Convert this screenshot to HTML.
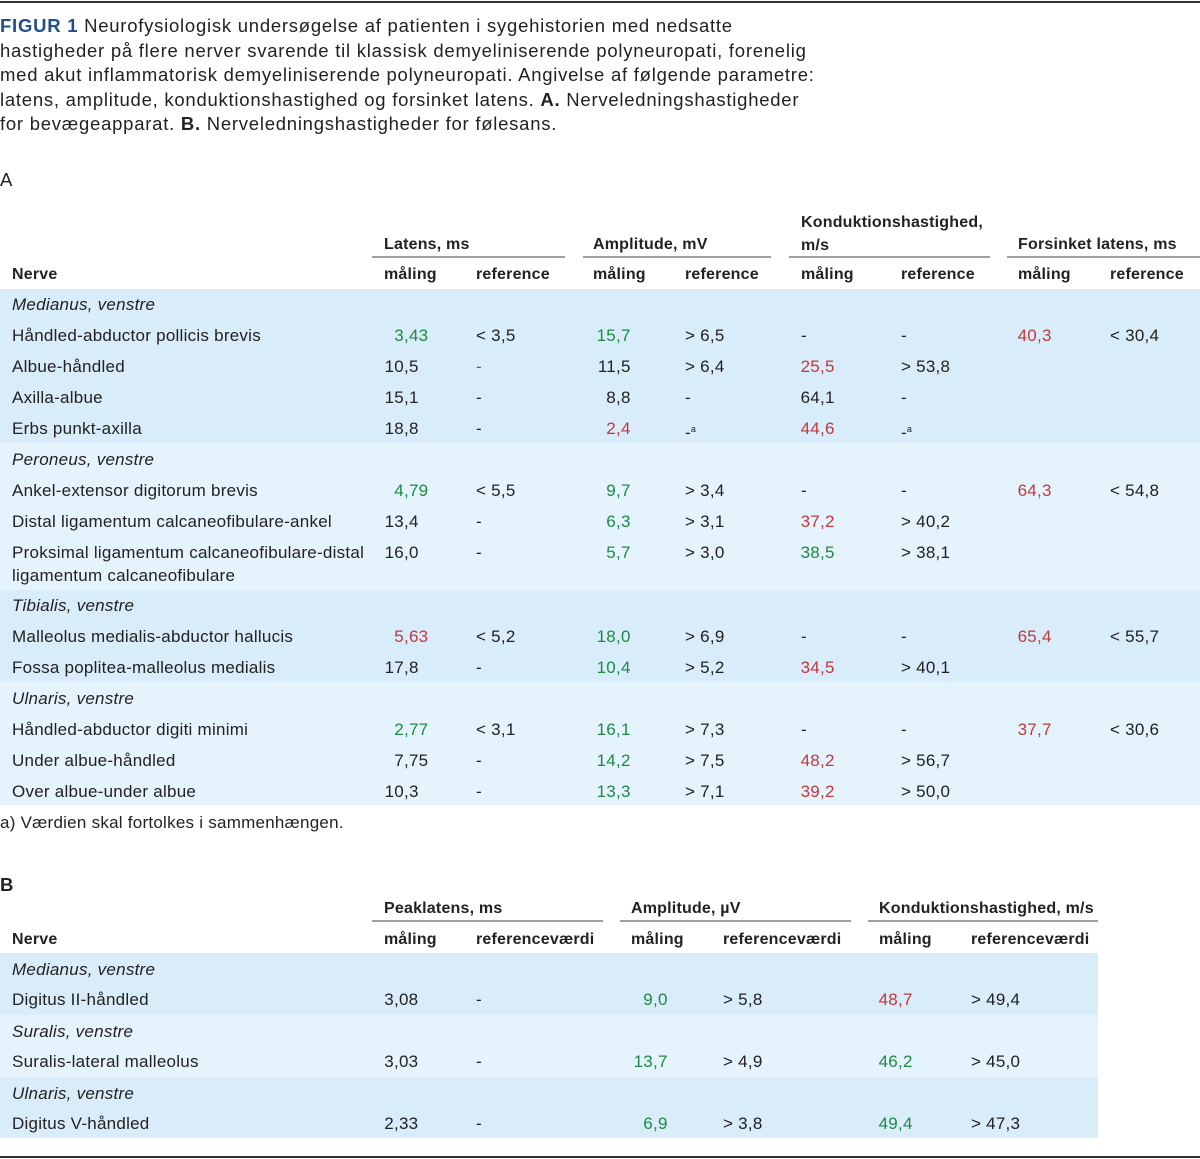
<!DOCTYPE html>
<html><head><meta charset="utf-8">
<style>
body{margin:0;width:1200px;height:1159px;position:relative;background:#fff;font-family:"Liberation Sans",Arial,sans-serif;color:#222;overflow:hidden}
.t{position:absolute;white-space:nowrap;font-size:17px;line-height:20px;letter-spacing:0.25px}
.cap{font-size:18.5px;letter-spacing:0.75px}
.b{font-weight:bold;font-size:16px;letter-spacing:0.2px}
.i{font-style:italic}
.g{color:#1e8a44}.r{color:#c0393f}
sup{font-size:9px;vertical-align:6px}
</style></head><body>
<div style="position:absolute;left:0;top:1px;width:1200px;height:2px;background:#333"></div>
<div style="position:absolute;left:0;top:1156px;width:1200px;height:2px;background:#333"></div>
<div id="root"></div>
<script>
const capLines=[
 '<b style="color:#1f4e8c">FIGUR 1</b> Neurofysiologisk undersøgelse af patienten i sygehistorien med nedsatte',
 'hastigheder på flere nerver svarende til klassisk demyeliniserende polyneuropati, forenelig',
 'med akut inflammatorisk demyeliniserende polyneuropati. Angivelse af følgende parametre:',
 'latens, amplitude, konduktionshastighed og forsinket latens. <b>A.</b> Nerveledningshastigheder',
 'for bevægeapparat. <b>B.</b> Nerveledningshastigheder for følesans.'];
const rowsA=[
 ['G','Medianus, venstre'],
 ['R','Håndled-abductor pollicis brevis','3,43','< 3,5','15,7','> 6,5','-','-','40,3','< 30,4'],
 ['R','Albue-håndled','10,5','-','11,5','> 6,4','25,5','> 53,8','',''],
 ['R','Axilla-albue','15,1','-','8,8','-','64,1','-','',''],
 ['R','Erbs punkt-axilla','18,8','-','2,4','-<sup>a</sup>','44,6','-<sup>a</sup>','',''],
 ['G','Peroneus, venstre'],
 ['R','Ankel-extensor digitorum brevis','4,79','< 5,5','9,7','> 3,4','-','-','64,3','< 54,8'],
 ['R','Distal ligamentum calcaneofibulare-ankel','13,4','-','6,3','> 3,1','37,2','> 40,2','',''],
 ['R2','Proksimal ligamentum calcaneofibulare-distal','16,0','-','5,7','> 3,0','38,5','> 38,1','',''],
 ['G','Tibialis, venstre'],
 ['R','Malleolus medialis-abductor hallucis','5,63','< 5,2','18,0','> 6,9','-','-','65,4','< 55,7'],
 ['R','Fossa poplitea-malleolus medialis','17,8','-','10,4','> 5,2','34,5','> 40,1','',''],
 ['G','Ulnaris, venstre'],
 ['R','Håndled-abductor digiti minimi','2,77','< 3,1','16,1','> 7,3','-','-','37,7','< 30,6'],
 ['R','Under albue-håndled','7,75','-','14,2','> 7,5','48,2','> 56,7','',''],
 ['R','Over albue-under albue','10,3','-','13,3','> 7,1','39,2','> 50,0','','']];
const colorsA=['','gngnnnrn','ngnnrnnn','nnnnnnnn','nnrnrnnn','','gngnnnrn','nngnrnnn','nngngnnn','','rngnnnrn','nngnrnnn','','gngnnnrn','nngnrnnn','nngnrnnn'];
const rowsB=[
 ['G','Medianus, venstre'],['R','Digitus II-håndled','3,08','-','9,0','> 5,8','48,7','> 49,4'],
 ['G','Suralis, venstre'],['R','Suralis-lateral malleolus','3,03','-','13,7','> 4,9','46,2','> 45,0'],
 ['G','Ulnaris, venstre'],['R','Digitus V-håndled','2,33','-','6,9','> 3,8','49,4','> 47,3']];
const colorsB=['','nngnrn','','nngngn','','nngngn'];

const root=document.getElementById('root');
function t(x,base,html,cls,name){
 const d=document.createElement('div');
 d.className='t '+(cls||'');
 d.style.left=x+'px';d.style.top=(base-15)+'px';
 d.innerHTML=html;
 
 
 root.appendChild(d);return d;}
function box(x,y,w,h,bg,name){
 const d=document.createElement('div');
 d.style.cssText=`position:absolute;left:${x}px;top:${y}px;width:${w}px;height:${h}px;background:${bg}`;
 
 
 root.appendChild(d);}
function val(x,comma,base,v,cls,name){
 if(v.indexOf(',')>=0&&comma){
  const p=v.split(',');
  const d=t(comma-100,base,p[0],cls,name);d.style.width='100px';d.style.textAlign='right';
  t(comma,base,','+p[1],cls,name+'-dec');
 } else t(x,base,v,cls,name);}

capLines.forEach((l,i)=>t(0,31+i*24.5,l,'cap','caption-line'));
t(0,185,'A','cap','section-a-label');

const bandA=[[289,154,'#d8ecfa'],[443,147,'#e5f3fc'],[590,92,'#d8ecfa'],[682,123,'#e5f3fc']];
bandA.forEach((b,i)=>box(0,b[0],1200,b[1],b[2],'band-a-'+i));
const groupsA=[['Latens, ms',384,372,193],['Amplitude, mV',593,583,188],['Konduktionshastighed,<br>m/s',801,789,201],['Forsinket latens, ms',1018,1007,193]];
groupsA.forEach((g,i)=>{const d=t(g[1],i==2?226:250,g[0],'b','group-header-a');if(i==2)d.style.lineHeight='23px';
 box(g[2],256,g[3],2,'#a0a0a0','group-underline-a');});
t(12,280,'Nerve','b','nerve-header-a');
const colX=[384,476,593,685,801,901,1018,1110];
const commaA=[404,0,616,0,820,0,1037,0];
colX.forEach((x,i)=>t(x,280,i%2?'reference':'måling','b','subheader-a'));
let y=310;
rowsA.forEach((r,ri)=>{
 if(r[0]=='G'){t(12,y,r[1],'i','group-label-a');y+=31;return;}
 t(12,y,r[1],'','row-label-a');
 if(r[0]=='R2')t(12,y+23,'ligamentum calcaneofibulare','','row-label-a-cont');
 for(let c=0;c<8;c++){
  const col=colorsA[ri][c];
  val(colX[c],commaA[c],y,r[c+2],col=='g'?'g':col=='r'?'r':'','cell-a');
 }
 y+=r[0]=='R2'?53:31;
});
t(0,828,'a) Værdien skal fortolkes i sammenhængen.','','footnote');

t(0,890,'<b>B</b>','cap','section-b-label');
const bandB=[[953,62,'#d8ecfa'],[1015,62,'#e5f3fc'],[1077,61,'#d8ecfa']];
bandB.forEach((b,i)=>box(0,b[0],1098,b[1],b[2],'band-b-'+i));
const groupsB=[['Peaklatens, ms',384,372,231],['Amplitude, µV',631,620,231],['Konduktionshastighed, m/s',879,868,230]];
groupsB.forEach(g=>{t(g[1],914,g[0],'b','group-header-b');box(g[2],920,g[3],2,'#a0a0a0','group-underline-b');});
t(12,945,'Nerve','b','nerve-header-b');
const colXB=[384,476,631,723,879,971];
const commaB=[394,0,653,0,898,0];
colXB.forEach((x,i)=>t(x,945,i%2?'referenceværdi':'måling','b','subheader-b'));
y=975;
rowsB.forEach((r,ri)=>{
 if(r[0]=='G'){t(12,y,r[1],'i','group-label-b');y+=30;return;}
 t(12,y,r[1],'','row-label-b');
 for(let c=0;c<6;c++){const col=colorsB[ri][c];
  val(colXB[c],commaB[c],y,r[c+2],col=='g'?'g':col=='r'?'r':'','cell-b');}
 y+=32;
});
</script>
</body></html>
